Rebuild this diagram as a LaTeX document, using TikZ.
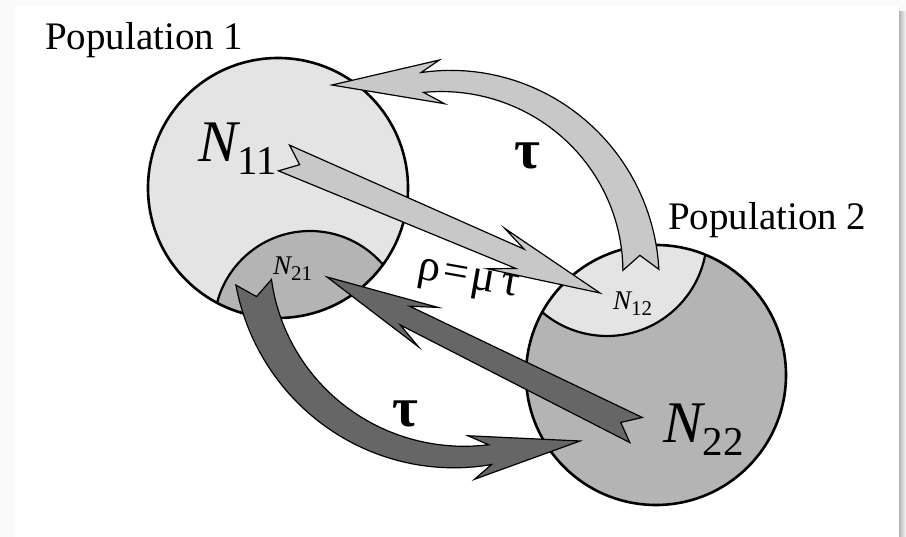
\documentclass[tikz,border=0pt]{standalone}
\usepackage{fontspec}
\setmainfont{Liberation Serif}
\usetikzlibrary{calc}

\definecolor{paleG}{RGB}{228,228,228}
\definecolor{midG}{RGB}{180,180,180}
\definecolor{arrowL}{RGB}{200,200,200}
\definecolor{arrowD}{RGB}{102,102,102}

% N with an upright index: N size, index size, index
\newcommand\popN[3]{{\fontsize{#1}{#1}\selectfont\itshape N\raisebox{-0.22em}{\upshape\fontsize{#2}{#2}\selectfont #3}}}

% straight block arrow, notched tail: style, tail, tip, name
\newcommand\slimarrow[4]{%
  \coordinate (#4-n) at ($(#2)!17pt!(#3)$);
  \coordinate (#4-t1) at ($(#2)!14pt!90:(#3)$);
  \coordinate (#4-t2) at ($(#2)!14pt!-90:(#3)$);
  \coordinate (#4-h) at ($(#3)!87pt!(#2)$);
  \coordinate (#4-s1) at ($(#4-h)!10.5pt!90:(#3)$);
  \coordinate (#4-s2) at ($(#4-h)!10.5pt!-90:(#3)$);
  \coordinate (#4-b) at ($(#3)!113pt!(#2)$);
  \coordinate (#4-b1) at ($(#4-b)!22pt!90:(#3)$);
  \coordinate (#4-b2) at ($(#4-b)!22pt!-90:(#3)$);
  \draw[#1] (#4-t1) -- (#4-s1) -- (#4-b1) -- (#3) -- (#4-b2) -- (#4-s2) -- (#4-t2) -- (#4-n) -- cycle;}

% curved block arrow along a circle: style, cx, cy, r, tail angle, head angle, tip, name
\newcommand\bandarrow[8]{%
  \coordinate (#8-h) at ({#2+#4*cos(#6)},{#3-#4*sin(#6)});
  \coordinate (#8-o) at ({#2+(#4+10)*cos(#6)},{#3-(#4+10)*sin(#6)});
  \coordinate (#8-i) at ({#2+(#4-10)*cos(#6)},{#3-(#4-10)*sin(#6)});
  \coordinate (#8-n) at ({#2+#4*cos(#5+0.045*(#6-#5))},{#3-#4*sin(#5+0.045*(#6-#5))});
  \coordinate (#8-b) at ($(#7)!110pt!(#8-h)$);
  \coordinate (#8-on) at ($(#8-h)!22pt!(#8-o)$);
  \coordinate (#8-in) at ($(#8-h)!22pt!(#8-i)$);
  \coordinate (#8-bo) at ($(#8-b)+(#8-on)-(#8-h)$);
  \coordinate (#8-bi) at ($(#8-b)+(#8-in)-(#8-h)$);
  \draw[#1] plot[domain=0:1,samples=40] ({#2+(#4+18-8*\x)*cos(#5+(#6-#5)*\x)},{#3-(#4+18-8*\x)*sin(#5+(#6-#5)*\x)})
    -- (#8-bo) -- (#7) -- (#8-bi) -- (#8-i)
    -- plot[domain=0:1,samples=40] ({#2+(#4-18+8*(1-\x))*cos(#6+(#5-#6)*\x)},{#3-(#4-18+8*(1-\x))*sin(#6+(#5-#6)*\x)})
    -- (#8-n) -- cycle;}

\begin{document}
\begin{tikzpicture}[x=1pt,y=-1pt,
  popline/.style={line width=2.6pt},
  capline/.style={line width=2.2pt},
  lightarrow/.style={fill=arrowL,draw=black,line width=1.2pt},
  darkarrow/.style={fill=arrowD,draw=black,line width=1.2pt},
  poplabel/.style={anchor=base west,inner sep=0pt,font=\fontsize{39}{42}\selectfont},
  nlabel/.style={anchor=base west,inner sep=0pt},
  taulabel/.style={inner sep=0pt,font=\bfseries\fontsize{56}{58}\selectfont}]
  \useasboundingbox (0,0) rectangle (906,537);
  \fill[gray!4] (0,0) rectangle (906,537);
  \fill[white] (15,6) rectangle (899,537);
  \shade[left color=gray!60,right color=gray!4] (899,12) rectangle (906,537);

  % population 1
  \fill[paleG] (278,188) circle (130pt);
  \begin{scope}
    \clip (278,188) circle (130pt);
    \fill[midG] (310,327) circle (96pt);
    \draw[capline] (310,327) circle (96pt);
  \end{scope}
  \draw[popline] (278,188) circle (130pt);

  % population 2
  \fill[midG] (656,375) circle (130pt);
  \begin{scope}
    \clip (656,375) circle (130pt);
    \fill[paleG] (607,236) circle (100pt);
    \draw[capline] (607,236) circle (100pt);
  \end{scope}
  \draw[popline] (656,375) circle (130pt);

  % arrow ends
  \coordinate (a11) at (284,158);
  \coordinate (a12) at (600,293);
  \coordinate (a22) at (636,430);
  \coordinate (a21) at (327,277);
  \coordinate (topTip) at (332,85);
  \coordinate (lowTip) at (580,441);

  \bandarrow{lightarrow}{446}{276}{195}{1.8}{97}{topTip}{up}
  \slimarrow{lightarrow}{a11}{a12}{mid}
  \slimarrow{darkarrow}{a22}{a21}{back}
  \bandarrow{darkarrow}{459}{249}{208}{189.2}{278.6}{lowTip}{low}

  \node[poplabel] (pop1) at (45,50) {Population 1};
  \node[poplabel] (pop2) at (668,230) {Population 2};
  \node[nlabel] (n11) at (198,162) {\popN{59}{41}{11}};
  \node[nlabel] (n22) at (663,443) {\popN{59}{41}{22}};
  \node[nlabel] (n21) at (273,275) {\popN{27}{21}{21}};
  \node[nlabel] (n12) at (613,310) {\popN{27}{21}{12}};
  \node[rotate=-10,inner sep=0pt,font=\fontsize{45}{45}\selectfont] (rate) at (468,282) {ρ\kern3pt=\kern3ptμ\kern7ptτ};
  \node[taulabel] (tauUp) at (527,156) {τ};
  \node[taulabel] (tauLow) at (405,414) {τ};
\end{tikzpicture}
\end{document}
